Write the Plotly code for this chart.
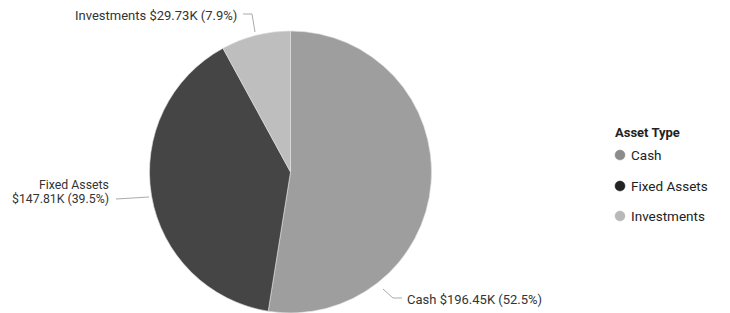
import plotly.graph_objects as go

categories = ["Cash", "Fixed Assets", "Investments"]
values = [196.45, 147.81, 29.73]
slice_colors = ["#9e9e9e", "#454545", "#bebebe"]
legend_colors = ["#8c8c8c", "#222222", "#b8b8b8"]
legend_title = "Asset Type"

OFF = 8  # page body margin
W, H = 730 - OFF, 313 - OFF
total = sum(values)
def lbl(i):
    return f"${values[i]:.2f}K ({values[i]/total*100:.1f}%)"

# reference-pixel -> paper coordinates
def px(x): return (x - OFF) / W
def py(y): return 1 - (y - OFF) / H

fig = go.Figure()
fig.add_trace(go.Pie(
    labels=categories, values=values, sort=False, direction="clockwise", rotation=0,
    marker=dict(colors=slice_colors, line=dict(color="#e0e0e0", width=0.6)),
    textinfo="none", hoverinfo="label+value+percent", showlegend=False,
    domain=dict(x=[px(149.5), px(431.5)], y=[0, py(31)]),
))

font = "Roboto, Lato, sans-serif"
lab_font = dict(family=font, size=13, color="#333333")
small_font = dict(family=font, size=12.3, color="#333333")
ann = [
    dict(x=px(239), y=py(15), xanchor="right", yanchor="middle", text=f"Investments {lbl(2)}", font=lab_font),
    dict(x=px(111), y=py(185), xanchor="right", yanchor="middle", text="Fixed Assets", font=small_font),
    dict(x=px(111), y=py(199), xanchor="right", yanchor="middle", text=lbl(1), font=small_font),
    dict(x=px(405), y=py(299), xanchor="left", yanchor="middle", text=f"Cash {lbl(0)}", font=lab_font),
]

# manual legend
ann.append(dict(x=px(613), y=py(132), xanchor="left", yanchor="middle",
                text=f"<b>{legend_title}</b>", font=dict(family=font, size=13, color="#222222")))
leg_y = [155, 186, 216]
shapes = []
for c, col, yy in zip(categories, legend_colors, leg_y):
    ann.append(dict(x=px(629), y=py(yy), xanchor="left", yanchor="middle", text=c,
                    font=dict(family=font, size=13.5, color="#222222")))
    r = 5
    shapes.append(dict(type="circle", x0=px(620 - r), x1=px(620 + r), y0=py(yy + r), y1=py(yy - r),
                       fillcolor=col, line=dict(color=col, width=0.5)))
for a in ann:
    a.update(xref="paper", yref="paper", showarrow=False)

def path(pts):
    return "M " + " L ".join(f"{px(x)},{py(y)}" for x, y in pts)

lines = [
    [(243, 14), (252, 14), (255, 32)],
    [(116, 199), (149, 197)],
    [(383, 289), (393, 298), (402, 298)],
]
for p in lines:
    shapes.append(dict(type="path", path=path(p), line=dict(color="#aaaaaa", width=1)))
for s in shapes:
    s.update(xref="paper", yref="paper")

fig.update_layout(
    width=W, height=H, margin=dict(l=0, r=0, t=0, b=0),
    paper_bgcolor="white", plot_bgcolor="white",
    annotations=ann, shapes=shapes, showlegend=False,
)
fig.write_html("out.html")
